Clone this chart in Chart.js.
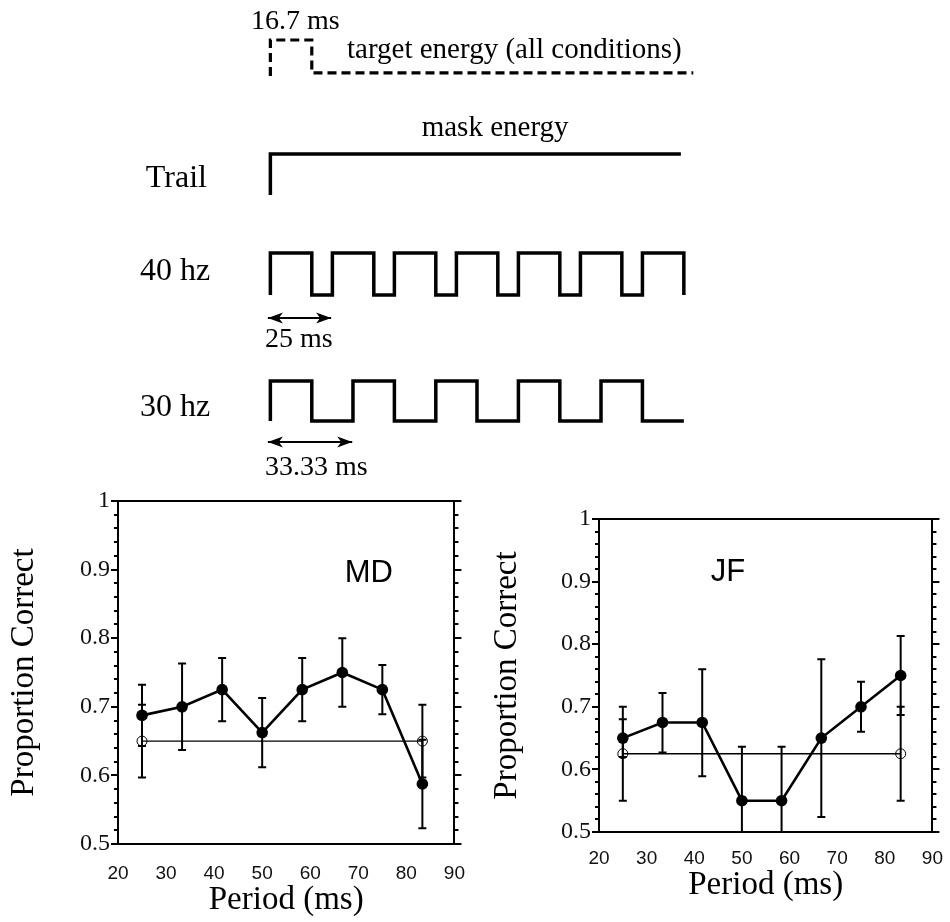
<!DOCTYPE html>
<html>
<head>
<meta charset="utf-8">
<title>Proportion correct vs. mask period</title>
<script src="https://cdn.jsdelivr.net/npm/chart.js@4.4.1/dist/chart.umd.min.js"></script>
<style>
  html, body { margin: 0; padding: 0; background: #fff; }
  #page { position: relative; width: 950px; height: 922px; overflow: hidden; }
  canvas { position: absolute; }
  #timeline { left: 0; top: 0; }
  #chartMD { left: 0; top: 480px; }
  #chartJF { left: 475px; top: 480px; }
</style>
</head>
<body>
<div id="page">
  <canvas id="timeline" width="950" height="480"></canvas>
  <canvas id="chartMD" width="475" height="442"></canvas>
  <canvas id="chartJF" width="475" height="442"></canvas>
</div>
<script>
'use strict';

/* --- results: period of the mask flicker (ms) vs proportion correct --- */
const periods   = [25, 33.33, 41.67, 50, 58.33, 66.67, 75, 83.33];

const mdCorrect = [0.6875, 0.70, 0.725, 0.6625, 0.725, 0.75, 0.725, 0.5875];
const mdUpper   = [0.732, 0.763, 0.771, 0.713, 0.771, 0.80, 0.761, 0.652];
const mdLower   = [0.643, 0.637, 0.679, 0.612, 0.679, 0.70, 0.689, 0.523];

const jfCorrect = [0.65, 0.675, 0.675, 0.55, 0.55, 0.65, 0.70, 0.75];
const jfUpper   = [0.68, 0.722, 0.76, 0.636, 0.636, 0.776, 0.74, 0.813];
const jfLower   = [0.62, 0.627, 0.589, 0.464, 0.464, 0.524, 0.66, 0.687];

// trail condition (open circles), drawn as a flat reference line
const trailPeriods = [25, 83.33];
const mdTrail      = [0.65, 0.65];
const mdTrailUpper = [0.703, 0.703];
const mdTrailLower = [0.597, 0.597];
const jfTrail      = [0.625, 0.625];
const jfTrailUpper = [0.70, 0.70];
const jfTrailLower = [0.55, 0.55];

const xTickValues = [20, 30, 40, 50, 60, 70, 80, 90];
const yTickValues = [0.5, 0.6, 0.7, 0.8, 0.9, 1];

/* --- stimulus timeline: time (ms) of each level change, level 0/1 --- */
const targetTimes  = [0, 0, 16.7, 170.5];
const targetLevels = [-0.1, 1, 0, 0];
const trailTimes   = [0, 0, 165.5];
const trailLevels  = [0, 1, 1];
const hz40Times    = [0, 0, 16.7, 25, 41.7, 50, 66.7, 75, 91.7, 100, 116.7, 125, 141.7, 150, 166.7];
const hz40Levels   = [0, 1, 0, 1, 0, 1, 0, 1, 0, 1, 0, 1, 0, 1, 0];
const hz30Times    = [0, 0, 16.7, 33.3, 50, 66.7, 83.3, 100, 116.7, 133.3, 150, 166.7];
const hz30Levels   = [0, 1, 0, 1, 0, 1, 0, 1, 0, 1, 0, 0];
const arrow40Times = [-1, 24.5];
const arrow30Times = [-1, 33];

const SERIF = '"Liberation Serif", "Times New Roman", serif';
const SANS = '"Liberation Sans", Arial, sans-serif';

const pts = (xs, ys) => xs.map((x, i) => ({ x, y: ys[i] }));
// place a 0/1 trace on its own row of the diagram
const row = (xs, levels, base, amp) => xs.map((x, i) => ({ x, y: base + levels[i] * amp }));

// free text placed in data coordinates
const textLabels = {
  id: 'textLabels',
  afterDatasetsDraw(chart, args, opts) {
    const { ctx, scales: { x, y } } = chart;
    ctx.save();
    ctx.fillStyle = '#000';
    (opts.labels || []).forEach(l => {
      ctx.font = `${l.size}px ${l.family || SERIF}`;
      ctx.textAlign = l.align || 'left';
      ctx.textBaseline = l.baseline || 'alphabetic';
      ctx.fillText(l.text, x.getPixelForValue(l.t), y.getPixelForValue(l.v));
    });
    ctx.restore();
  }
};

const arrowHeads = {
  id: 'arrowHeads',
  afterDatasetsDraw(chart) {
    const ctx = chart.ctx;
    ctx.save();
    ctx.fillStyle = '#000';
    chart.data.datasets.forEach((ds, i) => {
      if (!ds.arrowHeads) return;
      const p = chart.getDatasetMeta(i).data;
      [[p[0], -1], [p[p.length - 1], 1]].forEach(([pt, dir]) => {
        ctx.beginPath();
        ctx.moveTo(pt.x, pt.y);
        ctx.lineTo(pt.x - dir * 15, pt.y - 5.5);
        ctx.lineTo(pt.x - dir * 11, pt.y);
        ctx.lineTo(pt.x - dir * 15, pt.y + 5.5);
        ctx.closePath();
        ctx.fill();
      });
    });
    ctx.restore();
  }
};

const errorBars = {
  id: 'errorBars',
  beforeDatasetsDraw(chart) {
    const { ctx, chartArea: a, scales: { x, y } } = chart;
    ctx.save();
    ctx.beginPath();
    ctx.rect(a.left, a.top, a.right - a.left, a.bottom - a.top);
    ctx.clip();
    ctx.strokeStyle = '#000';
    ctx.lineWidth = 2;
    chart.data.datasets.forEach(ds => {
      if (!ds.errHi) return;
      ds.data.forEach((d, i) => {
        const px = x.getPixelForValue(d.x);
        const top = y.getPixelForValue(ds.errHi[i]);
        const bot = y.getPixelForValue(ds.errLo[i]);
        ctx.beginPath();
        ctx.moveTo(px, top); ctx.lineTo(px, bot);
        ctx.moveTo(px - 4, top); ctx.lineTo(px + 4, top);
        ctx.moveTo(px - 4, bot); ctx.lineTo(px + 4, bot);
        ctx.stroke();
      });
    });
    ctx.restore();
  }
};

// short minor ticks (every 0.02) on both vertical frame sides
const minorTicks = {
  id: 'minorTicks',
  afterDraw(chart) {
    const { ctx, chartArea: a, scales: { y } } = chart;
    ctx.save();
    ctx.strokeStyle = '#000';
    ctx.lineWidth = 2;
    for (let k = Math.round(y.min * 50) + 1; k < Math.round(y.max * 50); k++) {
      if (k % 5 === 0) continue;
      const py = Math.round(y.getPixelForValue(k / 50));
      ctx.beginPath();
      ctx.moveTo(a.left - 4, py); ctx.lineTo(a.left, py);
      ctx.moveTo(a.right, py); ctx.lineTo(a.right + 4, py);
      ctx.stroke();
    }
    ctx.restore();
  }
};

function trace(data, extra) {
  return Object.assign({
    data, borderColor: '#000', backgroundColor: '#000', borderWidth: 3.5,
    pointRadius: 0, fill: false, tension: 0, stepped: true
  }, extra);
}

new Chart(document.getElementById('timeline'), {
  type: 'line',
  data: {
    datasets: [
      trace(row(targetTimes, targetLevels, 10.18, 0.82), { borderDash: [9, 5], borderWidth: 3.2 }),
      trace(row(trailTimes, trailLevels, 7.125, 1.025)),
      trace(row(hz40Times, hz40Levels, 4.625, 1.05)),
      trace(row(hz30Times, hz30Levels, 1.475, 1.0)),
      trace(row(arrow40Times, [0, 0], 4.05, 1), { borderWidth: 2, stepped: false, arrowHeads: true }),
      trace(row(arrow30Times, [0, 0], 0.95, 1), { borderWidth: 2, stepped: false, arrowHeads: true })
    ]
  },
  options: {
    responsive: false, animation: false, devicePixelRatio: 1,
    layout: { padding: 0 },
    plugins: {
      legend: { display: false }, tooltip: { enabled: false },
      textLabels: {
        labels: [
          { text: '16.7 ms', t: 10.1, v: 11.275, size: 28, align: 'center' },
          { text: 'target energy (all conditions)', t: 30.9, v: 10.55, size: 29 },
          { text: 'mask energy', t: 90.6, v: 8.6, size: 29, align: 'center' },
          { text: 'Trail', t: -50.2, v: 7.325, size: 32 },
          { text: '40 hz', t: -52.6, v: 5.0, size: 32 },
          { text: '30 hz', t: -52.6, v: 1.6, size: 32 },
          { text: '25 ms', t: -2.2, v: 3.33, size: 28 },
          { text: '33.33 ms', t: -2.2, v: 0.13, size: 28 }
        ]
      }
    },
    scales: {
      x: { type: 'linear', display: false, min: -109, max: 274 },
      y: { type: 'linear', display: false, min: 0, max: 12 }
    }
  },
  plugins: [arrowHeads, textLabels]
});

function drawPanel(canvasId, name, correct, upper, lower, trail, trailUpper, trailLower, box) {
  const frame = { display: true, color: '#000', width: 2 };
  const setY = s => { s.ticks = yTickValues.map(value => ({ value })); };
  const setX = s => { s.ticks = xTickValues.map(value => ({ value })); };
  return new Chart(document.getElementById(canvasId), {
    type: 'line',
    data: {
      datasets: [
        {
          data: pts(trailPeriods, trail), errHi: trailUpper, errLo: trailLower,
          borderColor: '#000', borderWidth: 1.4, pointRadius: 5,
          pointBackgroundColor: 'rgba(0,0,0,0)', pointBorderColor: '#000', pointBorderWidth: 1
        },
        {
          data: pts(periods, correct), errHi: upper, errLo: lower,
          borderColor: '#000', borderWidth: 2.6, pointRadius: 5.8,
          pointBackgroundColor: '#000', pointBorderColor: '#000', pointBorderWidth: 0
        }
      ]
    },
    options: {
      responsive: false, animation: false, devicePixelRatio: 1,
      layout: { padding: { top: box.top, left: 0, right: 0, bottom: 0 } },
      plugins: {
        legend: { display: false }, tooltip: { enabled: false },
        textLabels: {
          labels: [{ text: name, t: box.nameT, v: box.nameV, size: 31, family: SANS, align: 'center', baseline: 'middle' }]
        }
      },
      scales: {
        x: {
          type: 'linear', position: 'bottom', min: 20, max: 90,
          afterBuildTicks: setX,
          ticks: { font: { family: SANS, size: 19 }, color: '#111', padding: box.tickPad, callback: v => String(v), autoSkip: false },
          grid: { display: false },
          border: frame,
          title: { display: true, text: 'Period (ms)', color: '#000', font: { family: SERIF, size: 33 }, padding: { top: 0, bottom: box.xTitlePad } },
          afterFit: s => { s.height = box.xHeight; }
        },
        x2: {
          type: 'linear', position: 'top', min: 20, max: 90,
          ticks: { display: false }, grid: { display: false }, border: frame,
          afterFit: s => { s.height = 0; }
        },
        y: {
          type: 'linear', position: 'left', min: 0.5, max: 1,
          afterBuildTicks: setY,
          ticks: { font: { family: SERIF, size: 24 }, color: '#111', padding: 1, callback: v => String(Math.round(v * 10) / 10) },
          grid: { drawOnChartArea: false, color: '#000', lineWidth: 2, tickLength: 7 },
          border: frame,
          title: { display: true, text: 'Proportion Correct', color: '#000', font: { family: SERIF, size: 33 }, padding: { top: box.yTitlePad, bottom: 0 } },
          afterFit: s => { s.width = box.yWidth; }
        },
        y2: {
          type: 'linear', position: 'right', min: 0.5, max: 1,
          afterBuildTicks: setY,
          ticks: { display: false },
          grid: { drawOnChartArea: false, color: '#000', lineWidth: 2, tickLength: 7 },
          border: frame,
          afterFit: s => { s.width = box.y2Width; }
        }
      }
    },
    plugins: [errorBars, minorTicks, textLabels]
  });
}

drawPanel('chartMD', 'MD', mdCorrect, mdUpper, mdLower, mdTrail, mdTrailUpper, mdTrailLower,
  { top: 21, yWidth: 118, y2Width: 19, xHeight: 78, tickPad: 10, xTitlePad: 2, yTitlePad: 5, nameT: 72.2, nameV: 0.894 });
drawPanel('chartJF', 'JF', jfCorrect, jfUpper, jfLower, jfTrail, jfTrailUpper, jfTrailLower,
  { top: 39, yWidth: 124, y2Width: 12, xHeight: 90, tickPad: 7, xTitlePad: 17, yTitlePad: 13, nameT: 47.1, nameV: 0.915 });
</script>
</body>
</html>
